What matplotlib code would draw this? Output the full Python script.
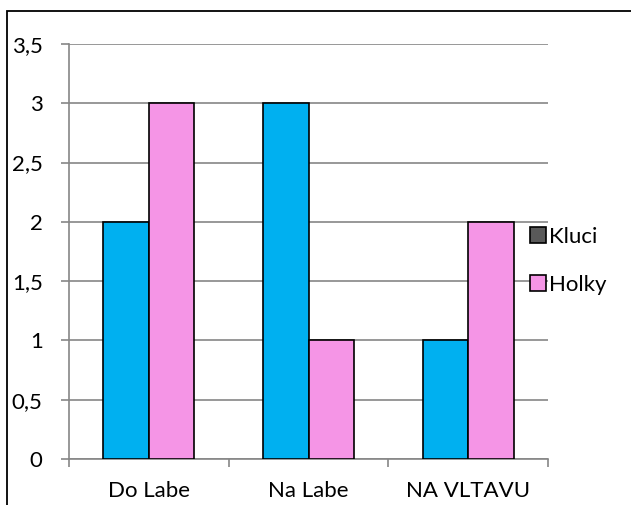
import matplotlib.pyplot as plt
from matplotlib.patches import Rectangle
from matplotlib.lines import Line2D
import numpy as np

plt.rcParams['font.family'] = ['Lato', 'DejaVu Sans']

# data
categories = ['Do Labe', 'Na Labe', 'NA VLTAVU']
kluci = [2, 3, 1]
holky = [3, 1, 2]
yticks = [0, 0.5, 1, 1.5, 2, 2.5, 3, 3.5]
ytick_labels = ['0', '0,5', '1', '1,5', '2', '2,5', '3', '3,5']

blue = '#00B0F0'
pink = '#F595E6'
grid_c = '#868686'

fig = plt.figure(figsize=(6.31, 5.05), dpi=100)
ax = fig.add_axes([69/631, 1-459/505, (548-69)/631, (459-44)/505])

x = np.arange(len(categories))
w = 0.285
ax.bar(x - w/2, kluci, w, color=blue, edgecolor='black', linewidth=1.2, zorder=3)
ax.bar(x + w/2, holky, w, color=pink, edgecolor='black', linewidth=1.2, zorder=3)

ax.set_xlim(-0.5, 2.5)
ax.set_ylim(0, 3.5)
ax.set_yticks(yticks)
ax.set_yticklabels(ytick_labels, fontsize=16)
ax.yaxis.grid(True, color=grid_c, linewidth=1.2, zorder=0)
ax.tick_params(axis='y', length=6, width=1.2, color=grid_c, pad=13)

# x ticks at the category boundaries, labels at the centers
ax.set_xticks([-0.5, 0.5, 1.5, 2.5])
ax.set_xticklabels([])
ax.set_xticks(x, minor=True)
ax.set_xticklabels(categories, minor=True, fontsize=16)
ax.tick_params(axis='x', which='major', length=6, width=1.2, color=grid_c)
ax.tick_params(axis='x', which='minor', length=0, pad=16)

for s in ['top', 'right']:
    ax.spines[s].set_visible(False)
for s in ['left', 'bottom']:
    ax.spines[s].set_color(grid_c)
    ax.spines[s].set_linewidth(1.2)

handles = [Line2D([], [], marker='s', linestyle='none', markersize=11,
                  markerfacecolor='#595959', markeredgecolor='black', markeredgewidth=1.2),
           Line2D([], [], marker='s', linestyle='none', markersize=11,
                  markerfacecolor=pink, markeredgecolor='black', markeredgewidth=1.2)]
fig.legend(handles, ['Kluci', 'Holky'], loc='center left',
           bbox_to_anchor=(519/631, 1-261/505), frameon=False, fontsize=16,
           handlelength=0.7, handletextpad=0.15, labelspacing=1.25, borderpad=0)

# outer chart frame (clipped at right and bottom)
fig.patches.append(Rectangle((7/631, -0.1), 1.2, 1.1 - 11/505, transform=fig.transFigure,
                             fill=False, edgecolor='black', linewidth=1.3))

fig.savefig('out.png', dpi=100)
